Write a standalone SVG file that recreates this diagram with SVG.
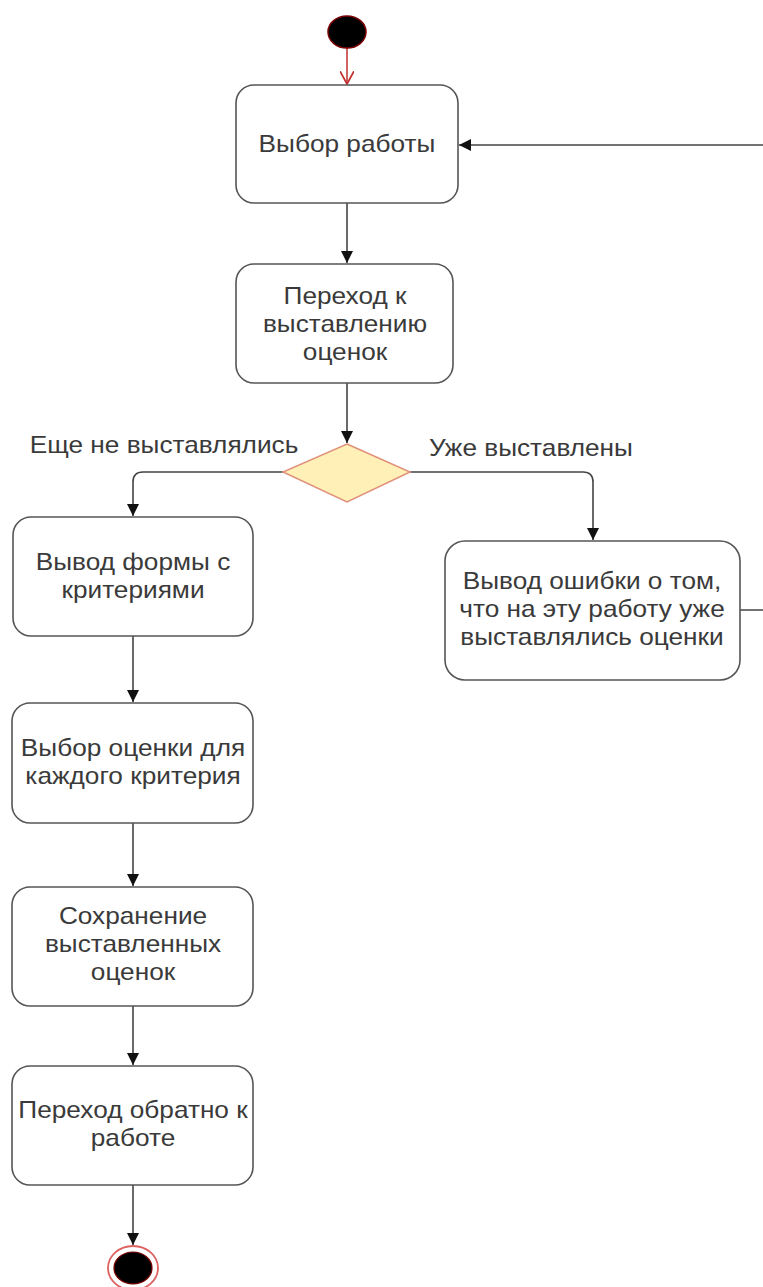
<svg xmlns="http://www.w3.org/2000/svg" width="763" height="1287" viewBox="0 0 763 1287">
<style>
.box{fill:#fff;stroke:#555;stroke-width:1.6}
.t{font-family:"Liberation Sans",Arial,sans-serif;font-size:23px;fill:#3a3a3a;text-anchor:middle}
.ln{fill:none;stroke:#444;stroke-width:1.6}
</style>
<defs>
<marker id="ah" viewBox="0 0 10 10" refX="10" refY="5" markerWidth="12" markerHeight="12" markerUnits="userSpaceOnUse" orient="auto">
<path d="M0,0 L10,5 L0,10 Z" fill="#111"/>
</marker>
<marker id="oa" viewBox="0 0 12 12" refX="11" refY="6" markerWidth="14" markerHeight="14" markerUnits="userSpaceOnUse" orient="auto">
<path d="M0,0 L11,6 L0,12" fill="none" stroke="#c03030" stroke-width="1.5"/>
</marker>
</defs>
<rect width="763" height="1287" fill="#fff"/>
<g id="connectors">
<line x1="347" y1="48" x2="347" y2="84" stroke="#c03030" stroke-width="1.5" marker-end="url(#oa)"/>
<line class="ln" x1="347" y1="203" x2="347" y2="263" marker-end="url(#ah)"/>
<line class="ln" x1="347" y1="383" x2="347" y2="443" marker-end="url(#ah)"/>
<path class="ln" d="M283,472 H143 Q133,472 133,482 V516" marker-end="url(#ah)"/>
<path class="ln" d="M410,472 H583 Q593,472 593,482 V540" marker-end="url(#ah)"/>
<line class="ln" x1="133" y1="636" x2="133" y2="702" marker-end="url(#ah)"/>
<line class="ln" x1="133" y1="823" x2="133" y2="886" marker-end="url(#ah)"/>
<line class="ln" x1="133" y1="1006" x2="133" y2="1065" marker-end="url(#ah)"/>
<line class="ln" x1="133" y1="1185" x2="133" y2="1245" marker-end="url(#ah)"/>
<path class="ln" d="M740,610 H772 V155 Q772,145 762,145 H459" marker-end="url(#ah)"/>
</g>
<g id="start">
<ellipse cx="347" cy="32" rx="19" ry="16" fill="#000" stroke="#7a0000" stroke-width="1.5"/>
</g>
<g id="n1">
<rect class="box" x="236" y="85" width="222" height="118" rx="18"/>
<g transform="translate(347,0) scale(1.14,1)"><text class="t" x="0" y="152">Выбор работы</text></g>
</g>
<g id="n2">
<rect class="box" x="236" y="264" width="217" height="119" rx="18"/>
<g transform="translate(345,0) scale(1.14,1)"><text class="t" x="0" y="304">Переход к</text><text class="t" x="0" y="332">выставлению</text><text class="t" x="0" y="360">оценок</text></g>
</g>
<g id="decision">
<polygon points="347,444 410,472 347,502 283,472" fill="#fff0b8" stroke="#e0907a" stroke-width="1.5"/>
<g transform="translate(164,0) scale(1.14,1)"><text class="t" x="0" y="453">Еще не выставлялись</text></g>
<g transform="translate(531,0) scale(1.14,1)"><text class="t" x="0" y="456">Уже выставлены</text></g>
</g>
<g id="n3">
<rect class="box" x="13" y="517" width="240" height="119" rx="18"/>
<g transform="translate(133,0) scale(1.14,1)"><text class="t" x="0" y="570">Вывод формы с</text><text class="t" x="0" y="598">критериями</text></g>
</g>
<g id="nerr">
<rect class="box" x="445" y="541" width="295" height="139" rx="20"/>
<g transform="translate(592,0) scale(1.14,1)"><text class="t" x="0" y="589">Вывод ошибки о том,</text><text class="t" x="0" y="617">что на эту работу уже</text><text class="t" x="0" y="645">выставлялись оценки</text></g>
</g>
<g id="n4">
<rect class="box" x="12" y="703" width="241" height="120" rx="18"/>
<g transform="translate(133,0) scale(1.14,1)"><text class="t" x="0" y="756">Выбор оценки для</text><text class="t" x="0" y="784">каждого критерия</text></g>
</g>
<g id="n5">
<rect class="box" x="12" y="887" width="241" height="119" rx="18"/>
<g transform="translate(133,0) scale(1.14,1)"><text class="t" x="0" y="924">Сохранение</text><text class="t" x="0" y="952">выставленных</text><text class="t" x="0" y="980">оценок</text></g>
</g>
<g id="n6">
<rect class="box" x="12" y="1066" width="241" height="119" rx="18"/>
<g transform="translate(133,0) scale(1.14,1)"><text class="t" x="0" y="1118">Переход обратно к</text><text class="t" x="0" y="1146">работе</text></g>
</g>
<g id="end">
<ellipse cx="133" cy="1268" rx="25" ry="22" fill="#fff" stroke="#e06060" stroke-width="1.8"/>
<ellipse cx="133" cy="1268" rx="19" ry="16" fill="#000" stroke="#7a0000" stroke-width="1.2"/>
</g>
</svg>
